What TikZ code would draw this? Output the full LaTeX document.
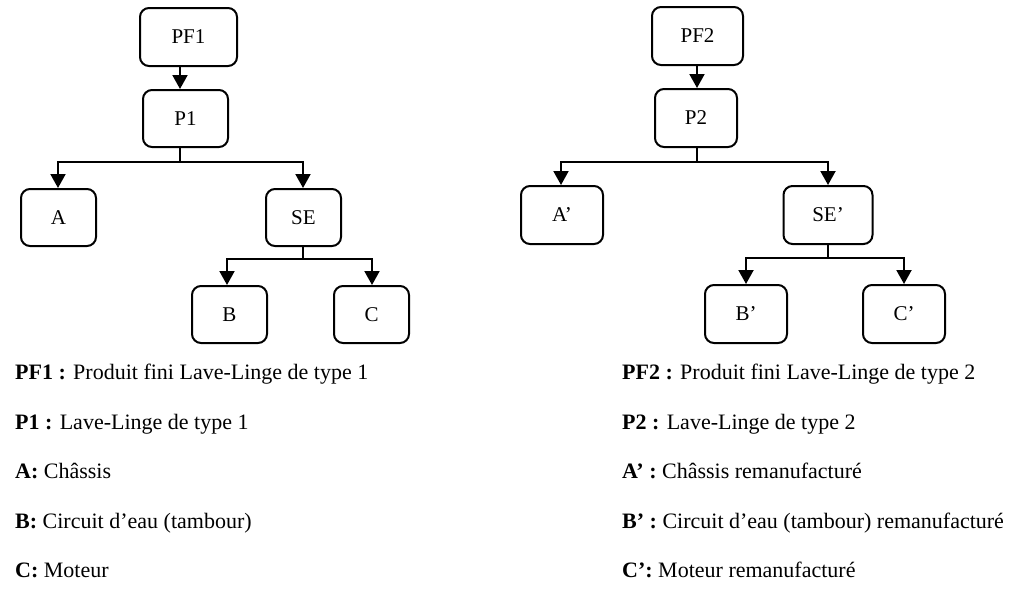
\documentclass[tikz,border=0pt]{standalone}
\usepackage{fontspec}
\setmainfont{Liberation Serif}
\usetikzlibrary{arrows.meta}
\begin{document}
\begin{tikzpicture}[x=1pt,y=-1pt,
  box/.style={draw, line width=2pt, rounded corners=9pt, inner sep=0pt, font=\fontsize{21}{24}\selectfont},
  arr/.style={line width=2pt, -{Triangle[length=14pt,width=15pt]}},
  lnk/.style={line width=2pt},
  leg/.style={anchor=base west, inner sep=0pt, font=\fontsize{22}{26}\selectfont}]
\useasboundingbox (0,0) rectangle (1023,589);
% left tree
\node[box, minimum width=97pt, minimum height=58pt] (PF1) at (188.5,37) {PF1};
\node[box, minimum width=85pt, minimum height=57pt] (P1) at (185.5,118.5) {P1};
\node[box, minimum width=75pt, minimum height=57pt] (A) at (58.5,217.5) {A};
\node[box, minimum width=75pt, minimum height=57pt] (SE) at (303.5,217.5) {SE};
\node[box, minimum width=75pt, minimum height=57pt] (B) at (229.5,314.5) {B};
\node[box, minimum width=75pt, minimum height=57pt] (C) at (371.5,314.5) {C};
\coordinate (j1) at (180,162);
\coordinate (j2) at (303,259);
\draw[arr] (PF1.south -| j1) -- (P1.north -| j1);
\draw[lnk] (P1.south -| j1) -- (j1);
\draw[arr] (j1) -| ([xshift=-0.5pt]A.north);
\draw[arr] (j1) -| ([xshift=-0.5pt]SE.north);
\draw[lnk] ([xshift=-0.5pt]SE.south) -- (j2);
\draw[arr] (j2) -| ([xshift=-2.5pt]B.north);
\draw[arr] (j2) -| ([xshift=0.5pt]C.north);
% right tree
\node[box, minimum width=91pt, minimum height=58pt] (PF2) at (697.5,36) {PF2};
\node[box, minimum width=82pt, minimum height=58pt] (P2) at (696,118) {P2};
\node[box, minimum width=82pt, minimum height=58pt] (A2) at (562,215) {A’};
\node[box, minimum width=89pt, minimum height=58pt] (SE2) at (828,215) {SE’};
\node[box, minimum width=82pt, minimum height=58pt] (B2) at (746,314) {B’};
\node[box, minimum width=82pt, minimum height=58pt] (C2) at (904,314) {C’};
\coordinate (k1) at (697,162);
\coordinate (k2) at (828,258);
\draw[arr] (PF2.south -| k1) -- (P2.north -| k1);
\draw[lnk] (P2.south -| k1) -- (k1);
\draw[arr] (k1) -| ([xshift=-1pt]A2.north);
\draw[arr] (k1) -| (SE2.north);
\draw[lnk] (SE2.south) -- (k2);
\draw[arr] (k2) -| (B2.north);
\draw[arr] (k2) -| (C2.north);
% legends
\node[leg] (l1) at (15,379) {\textbf{PF1 :} Produit fini Lave-Linge de type 1};
\node[leg] (l2) at (15,429) {\textbf{P1 :} Lave-Linge de type 1};
\node[leg] (l3) at (15,478) {\textbf{A:} Châssis};
\node[leg] (l4) at (15,528) {\textbf{B:} Circuit d’eau (tambour)};
\node[leg] (l5) at (15,577) {\textbf{C:} Moteur};
\node[leg] (r1) at (622,379) {\textbf{PF2 :} Produit fini Lave-Linge de type 2};
\node[leg] (r2) at (622,429) {\textbf{P2 :} Lave-Linge de type 2};
\node[leg] (r3) at (622,478) {\textbf{A’ :} Châssis remanufacturé};
\node[leg] (r4) at (622,528) {\textbf{B’ :} Circuit d’eau (tambour) remanufacturé};
\node[leg] (r5) at (622,577) {\textbf{C’:} Moteur remanufacturé};
\end{tikzpicture}
\end{document}
